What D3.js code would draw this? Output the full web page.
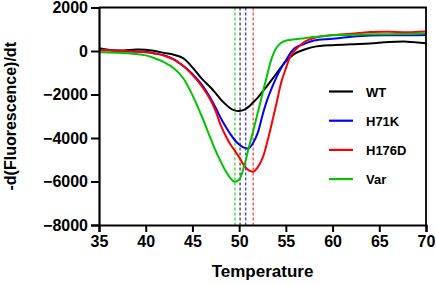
<!DOCTYPE html>
<html>
<head>
<meta charset="utf-8">
<script src="https://cdn.jsdelivr.net/npm/d3@7"></script>
<style>
  body { margin: 0; background: #fff; }
  text { font-family: "Liberation Sans", Arial, sans-serif; font-weight: bold; fill: #000; }
</style>
</head>
<body>
<div id="chart"></div>
<script>
const margin = {top: 7.5, right: 10, bottom: 60, left: 99};
const width = 436 - margin.left - margin.right;
const height = 285 - margin.top - margin.bottom;

// melt curve data
const temps = [35,37,39,40,41,42,43,44,45,46,47,47.5,48,48.5,49,49.5,50,50.5,51,51.5,52,52.5,53,53.5,54,54.5,55,55.5,56,57,58,60,62,64,66,68,70];
const wt    = [130,20,70,60,0,-90,-170,-330,-750,-1270,-1700,-1950,-2210,-2430,-2620,-2730,-2760,-2710,-2570,-2360,-2140,-1870,-1600,-1320,-1030,-740,-470,-270,-110,70,190,270,310,340,410,430,360];
const h71k  = [40,10,-20,-50,-110,-200,-380,-680,-1050,-1550,-2220,-2620,-3060,-3440,-3780,-4080,-4300,-4440,-4480,-4220,-3750,-2950,-2250,-1700,-1200,-780,-440,-90,150,330,480,560,650,710,720,720,730];
const h176d = [60,10,-30,-60,-120,-220,-400,-680,-1100,-1620,-2300,-2780,-3390,-3850,-4250,-4560,-4880,-5250,-5480,-5550,-5340,-4930,-4200,-3320,-2400,-1450,-800,-240,40,420,600,730,790,870,880,860,900];
const vari  = [-60,-80,-140,-200,-340,-520,-790,-1240,-2030,-3000,-4080,-4600,-5060,-5480,-5810,-6010,-5910,-5350,-4500,-3680,-2830,-1960,-1100,-320,150,380,470,510,540,590,640,720,740,770,770,780,800];

const seriesNames = ["WT", "H71K", "H176D", "Var"];
const seriesValues = [wt, h71k, h176d, vari];
const seriesColors = ["#000000", "#0000ff", "#ff0000", "#00c400"];
const meltTemps = [50.1, 50.7, 51.5, 49.55];

const xTicks = [35,40,45,50,55,60,65,70];
const yTicks = [2000,0,-2000,-4000,-6000,-8000];

const svg = d3.select("#chart").append("svg")
  .attr("width", 436)
  .attr("height", 285)
  .append("g")
  .attr("transform", "translate(" + margin.left + "," + margin.top + ")");

const x = d3.scaleLinear().domain([35, 70]).range([0, width]);
const y = d3.scaleLinear().domain([-8000, 2000]).range([height, 0]);

// dashed Tm lines (drawn under curves)
svg.selectAll("line.tm")
  .data(meltTemps)
  .join("line")
  .attr("class", "tm")
  .attr("x1", d => x(d)).attr("x2", d => x(d))
  .attr("y1", 0).attr("y2", height)
  .attr("stroke", (d, i) => seriesColors[i])
  .attr("stroke-opacity", 0.75)
  .attr("stroke-width", 1.3)
  .attr("stroke-dasharray", "3,2");

const line = d3.line()
  .x(d => x(d[0]))
  .y(d => y(d[1]))
  .curve(d3.curveCatmullRom.alpha(0.5));

svg.selectAll("path.curve")
  .data(seriesValues)
  .join("path")
  .attr("class", "curve")
  .attr("fill", "none")
  .attr("stroke", (d, i) => seriesColors[i])
  .attr("stroke-width", 2)
  .attr("d", d => line(temps.map((t, j) => [t, d[j]])));

// frame top + right
svg.append("path")
  .attr("d", "M0,0H" + width + "V" + height)
  .attr("fill", "none")
  .attr("stroke", "#000")
  .attr("stroke-width", 1.8);

const xAxis = svg.append("g")
  .attr("transform", "translate(0," + height + ")")
  .call(d3.axisBottom(x).tickValues(xTicks).tickSize(7).tickPadding(4).tickFormat(d3.format("d")));
const yAxis = svg.append("g")
  .call(d3.axisLeft(y).tickValues(yTicks).tickSize(8).tickPadding(3).tickFormat(d3.format("d")));

[xAxis, yAxis].forEach(a => {
  a.select(".domain").attr("stroke-width", 2.2);
  a.selectAll(".tick line").attr("stroke-width", 2);
  a.selectAll("text").style("font-size", "16px").style("font-weight", "bold")
    .style("font-family", "'Liberation Sans', Arial, sans-serif");
});

// legend
const legend = svg.append("g").attr("transform", "translate(230,84)");
seriesNames.forEach((name, i) => {
  const g = legend.append("g").attr("transform", "translate(0," + (i * 29.2) + ")");
  g.append("line").attr("x1", 0).attr("x2", 24).attr("y1", 0).attr("y2", 0)
    .attr("stroke", seriesColors[i]).attr("stroke-width", 2.2);
  g.append("text").attr("x", 37).attr("y", 5).style("font-size", "13px").text(name);
});

svg.append("text")
  .attr("text-anchor", "middle")
  .attr("x", width / 2)
  .attr("y", height + 52)
  .style("font-size", "17px")
  .text("Temperature");

svg.append("text")
  .attr("text-anchor", "middle")
  .attr("transform", "translate(" + (-margin.left + 16) + "," + (height / 2) + ")rotate(-90)")
  .style("font-size", "16px")
  .text("-d(Fluorescence)/dt");
</script>
</body>
</html>
